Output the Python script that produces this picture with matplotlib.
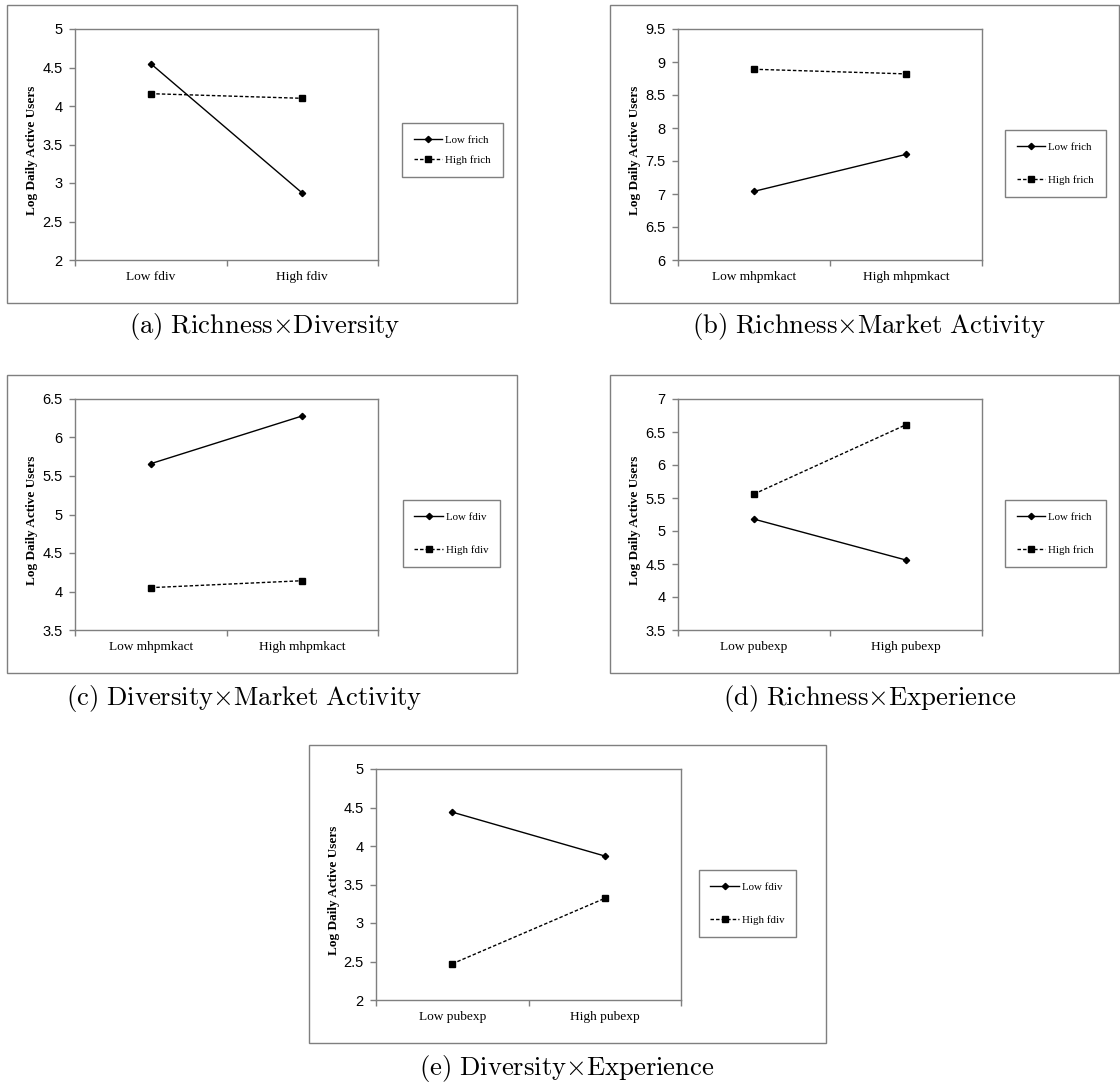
import matplotlib
matplotlib.use("Agg")
import matplotlib.pyplot as plt
from matplotlib.patches import Rectangle

# ---------------- data ----------------
ylabel_text = "Log Daily Active Users"

a_xcats = ["Low fdiv", "High fdiv"]
a_series = ["Low frich", "High frich"]
a_low = [4.55, 2.87]
a_high = [4.16, 4.10]
a_yticks = [2, 2.5, 3, 3.5, 4, 4.5, 5]
a_caption = r"$\mathrm{(a)\ Richness}{\times}\mathrm{Diversity}$"

b_xcats = ["Low mhpmkact", "High mhpmkact"]
b_series = ["Low frich", "High frich"]
b_low = [7.04, 7.60]
b_high = [8.89, 8.82]
b_yticks = [6, 6.5, 7, 7.5, 8, 8.5, 9, 9.5]
b_caption = r"$\mathrm{(b)\ Richness}{\times}\mathrm{Market\ Activity}$"

c_xcats = ["Low mhpmkact", "High mhpmkact"]
c_series = ["Low fdiv", "High fdiv"]
c_low = [5.66, 6.28]
c_high = [4.05, 4.14]
c_yticks = [3.5, 4, 4.5, 5, 5.5, 6, 6.5]
c_caption = r"$\mathrm{(c)\ Diversity}{\times}\mathrm{Market\ Activity}$"

d_xcats = ["Low pubexp", "High pubexp"]
d_series = ["Low frich", "High frich"]
d_low = [5.18, 4.56]
d_high = [5.56, 6.61]
d_yticks = [3.5, 4, 4.5, 5, 5.5, 6, 6.5, 7]
d_caption = r"$\mathrm{(d)\ Richness}{\times}\mathrm{Experience}$"

e_xcats = ["Low pubexp", "High pubexp"]
e_series = ["Low fdiv", "High fdiv"]
e_low = [4.44, 3.87]
e_high = [2.47, 3.32]
e_yticks = [2, 2.5, 3, 3.5, 4, 4.5, 5]
e_caption = r"$\mathrm{(e)\ Diversity}{\times}\mathrm{Experience}$"

# ---------------- layout (pixels) ----------------
W, H = 1120, 1085
GRAY = "#7f7f7f"
plt.rcParams["mathtext.fontset"] = "cm"

fig = plt.figure(figsize=(W / 100, H / 100), dpi=100)


def fx(x):
    return x / W


def fy(y):
    return 1 - y / H


def panel(frame, plot, leg, labelspacing, xcats, series, low, high, yticks, caption, cap_xy):
    fx0, fy0, fx1, fy1 = frame
    fig.patches.append(Rectangle((fx(fx0), fy(fy1)), fx(fx1) - fx(fx0), fy(fy0) - fy(fy1),
                                 transform=fig.transFigure, fill=False,
                                 edgecolor=GRAY, linewidth=1.0))
    px0, py0, px1, py1 = plot
    ax = fig.add_axes([fx(px0), fy(py1), fx(px1) - fx(px0), fy(py0) - fy(py1)])
    xs = [0.5, 1.5]
    ax.plot(xs, low, color="black", linewidth=1.0, marker="D", markersize=3.2,
            label=series[0])
    ax.plot(xs, high, color="black", linewidth=1.0, linestyle=(0, (2.5, 1.5)),
            marker="s", markersize=4.2, label=series[1])
    ax.set_xlim(0, 2)
    ax.set_ylim(yticks[0], yticks[-1])
    ax.set_yticks(yticks)
    ax.set_yticklabels([("%g" % v) for v in yticks],
                       fontfamily="Liberation Sans", fontsize=10.5)
    ax.set_xticks([0, 1, 2])
    ax.set_xticklabels([])
    ax.set_xticks(xs, minor=True)
    ax.set_xticklabels(xcats, minor=True, fontfamily="Liberation Serif", fontsize=9.6)
    ax.tick_params(axis="x", which="major", direction="out", length=4,
                   color=GRAY, width=1)
    ax.tick_params(axis="x", which="minor", length=0, pad=8)
    ax.tick_params(axis="y", direction="out", length=4, color=GRAY, width=1, pad=5)
    for s in ax.spines.values():
        s.set_color(GRAY)
        s.set_linewidth(1.0)
    ax.set_ylabel(ylabel_text, fontfamily="Liberation Serif", fontweight="bold",
                  fontsize=9.5)
    ax.yaxis.set_label_coords((fx0 + 31 - px0) / (px1 - px0), 0.476)

    lx0, ly0, lx1, ly1 = leg
    lg = ax.legend(loc="center",
                   bbox_to_anchor=(fx((lx0 + lx1) / 2), fy((ly0 + ly1) / 2)),
                   bbox_transform=fig.transFigure,
                   prop={"family": "Liberation Serif", "size": 7.8},
                   frameon=True, fancybox=False, framealpha=1,
                   handlelength=2.6, handletextpad=0.3,
                   borderpad=1.1, labelspacing=labelspacing)
    lg.get_frame().set_edgecolor(GRAY)
    lg.get_frame().set_linewidth(1.0)

    fig.text(fx(cap_xy[0]), fy(cap_xy[1]), caption, ha="center", va="center",
             fontsize=19.2)
    return ax


panel((7, 5, 517, 303), (75, 29, 378, 260), (401, 127, 504, 173), 0.95,
      a_xcats, a_series, a_low, a_high, a_yticks, a_caption, (265, 327))
panel((610, 5, 1119, 303), (678, 29, 982, 260), (1004, 129, 1107, 198), 2.2,
      b_xcats, b_series, b_low, b_high, b_yticks, b_caption, (869, 327))
panel((7, 375, 517, 673), (75, 399, 378, 630), (400, 499, 503, 568), 2.2,
      c_xcats, c_series, c_low, c_high, c_yticks, c_caption, (244, 698))
panel((610, 375, 1119, 673), (678, 399, 982, 630), (1004, 499, 1107, 568), 2.2,
      d_xcats, d_series, d_low, d_high, d_yticks, d_caption, (870, 698))
panel((309, 745, 826, 1043), (376, 769, 681, 1000), (697, 869, 798, 938), 2.2,
      e_xcats, e_series, e_low, e_high, e_yticks, e_caption, (567, 1068))

fig.savefig("out.png", dpi=100, facecolor="white")
